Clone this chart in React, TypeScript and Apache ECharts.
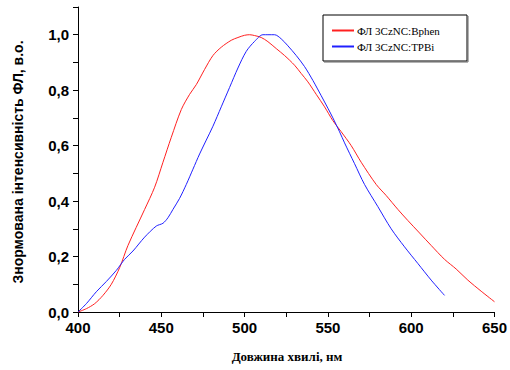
import React, { useEffect, useRef } from "react";
import * as echarts from "echarts";

const bphenX = [400, 405, 410, 415, 420, 425, 430, 440, 446, 451, 456, 462, 467, 471, 476, 481, 486, 492, 496, 500, 503, 506, 510, 514, 519, 524, 530, 534, 538, 543, 548, 553, 558, 564, 570, 579, 585, 592, 598, 605, 612, 620, 627, 634, 642, 650];
const bphenY = [0, 0.012, 0.03, 0.06, 0.1, 0.16, 0.24, 0.37, 0.45, 0.54, 0.63, 0.73, 0.785, 0.82, 0.875, 0.925, 0.955, 0.98, 0.99, 0.998, 1.0, 0.997, 0.99, 0.975, 0.95, 0.925, 0.89, 0.86, 0.83, 0.785, 0.74, 0.69, 0.65, 0.6, 0.54, 0.46, 0.42, 0.37, 0.33, 0.285, 0.24, 0.19, 0.155, 0.115, 0.075, 0.037];
const tpbiX = [400, 405, 411, 417, 423, 428, 433, 440, 447, 451, 454, 457, 461, 465, 469, 473, 477, 481, 486, 491, 496, 501, 506, 511, 514, 518, 522, 526, 531, 536, 541, 546, 550, 553, 557, 560, 566, 572, 580, 588, 596, 604, 612, 620];
const tpbiY = [0, 0.03, 0.073, 0.11, 0.15, 0.19, 0.22, 0.27, 0.31, 0.32, 0.34, 0.37, 0.41, 0.46, 0.515, 0.57, 0.62, 0.67, 0.74, 0.81, 0.88, 0.94, 0.976, 1.0, 1.0, 1.0, 0.985, 0.96, 0.925, 0.885, 0.835, 0.78, 0.735, 0.7, 0.65, 0.61, 0.535, 0.46, 0.38, 0.3, 0.235, 0.175, 0.115, 0.06];

const seriesNames = ["ФЛ 3CzNC:Bphen", "ФЛ 3CzNC:TPBi"];
const xTitle = "Довжина хвилі, нм";
const yTitle = "Знормована інтенсивність ФЛ, в.о.";

export default function App() {
  const ref = useRef<HTMLDivElement>(null);
  useEffect(() => {
    const chart = echarts.init(ref.current!, null, { renderer: "svg" });
    const labelStyle = {
      fontFamily: "Liberation Sans, Arial, sans-serif",
      fontWeight: "bold" as const,
      fontSize: 15,
      color: "#000",
    };
    chart.setOption({
      animation: false,
      backgroundColor: "#fff",
      grid: { left: 78, right: 14, top: 7, bottom: 58, containLabel: false },
      legend: {
        show: true,
        orient: "vertical",
        left: 327,
        top: 20,
        itemWidth: 22,
        itemHeight: 2,
        itemGap: 5,
        icon: "rect",
        textStyle: { fontFamily: "Liberation Serif, serif", fontSize: 11, color: "#000", padding: [0, 0, 0, -2] },
        data: seriesNames,
      },
      xAxis: {
        type: "value",
        min: 400,
        max: 650,
        interval: 25,
        axisLine: { show: true, onZero: false, lineStyle: { color: "#000", width: 1 } },
        axisTick: { show: true, inside: false, length: 5, lineStyle: { color: "#000" } },
        splitLine: { show: false },
        axisLabel: {
          ...labelStyle,
          margin: 8,
          formatter: (v: number) => (v % 50 === 0 ? String(v) : ""),
        },
      },
      yAxis: {
        type: "value",
        min: 0,
        max: 1.1,
        interval: 0.1,
        axisLine: { show: true, onZero: false, lineStyle: { color: "#000", width: 1 } },
        axisTick: { show: true, inside: false, length: 5, lineStyle: { color: "#000" } },
        splitLine: { show: false },
        axisLabel: {
          ...labelStyle,
          margin: 9,
          formatter: (v: number) => {
            const k = Math.round(v * 10);
            if (k % 2 !== 0 || k > 10) return "";
            return (k / 10).toFixed(1).replace(".", ",");
          },
        },
      },
      graphic: [
        {
          type: "rect",
          shape: { x: 323, y: 15, width: 144, height: 46 },
          style: { fill: "none", stroke: "#000", lineWidth: 1 },
          z: 0,
        },
        {
          type: "line",
          shape: { x1: 468, y1: 16, x2: 468, y2: 62 },
          style: { stroke: "#666", lineWidth: 1 },
        },
        {
          type: "line",
          shape: { x1: 324, y1: 62, x2: 468, y2: 62 },
          style: { stroke: "#666", lineWidth: 1 },
        },
        {
          type: "text",
          x: 287,
          y: 356,
          style: {
            text: xTitle,
            font: "bold 13px 'Liberation Serif', serif",
            fill: "#000",
            align: "center",
            verticalAlign: "middle",
          },
        },
        {
          type: "text",
          x: 18,
          y: 162,
          rotation: Math.PI / 2,
          style: {
            text: yTitle,
            font: "bold 14px 'Liberation Sans', Arial, sans-serif",
            fill: "#000",
            align: "center",
            verticalAlign: "middle",
          },
        },
      ],
      series: [
        {
          name: seriesNames[0],
          type: "line",
          data: bphenX.map((x, i) => [x, bphenY[i]]),
          showSymbol: false,
          smooth: 0.3,
          lineStyle: { color: "#ff2020", width: 1 },
          itemStyle: { color: "#ff2020" },
        },
        {
          name: seriesNames[1],
          type: "line",
          data: tpbiX.map((x, i) => [x, tpbiY[i]]),
          showSymbol: false,
          smooth: 0.3,
          lineStyle: { color: "#2020ff", width: 1 },
          itemStyle: { color: "#2020ff" },
        },
      ],
    });
    return () => chart.dispose();
  }, []);
  return <div ref={ref} style={{ width: 510, height: 370, position: "absolute", left: 0, top: 0 }} />;
}
